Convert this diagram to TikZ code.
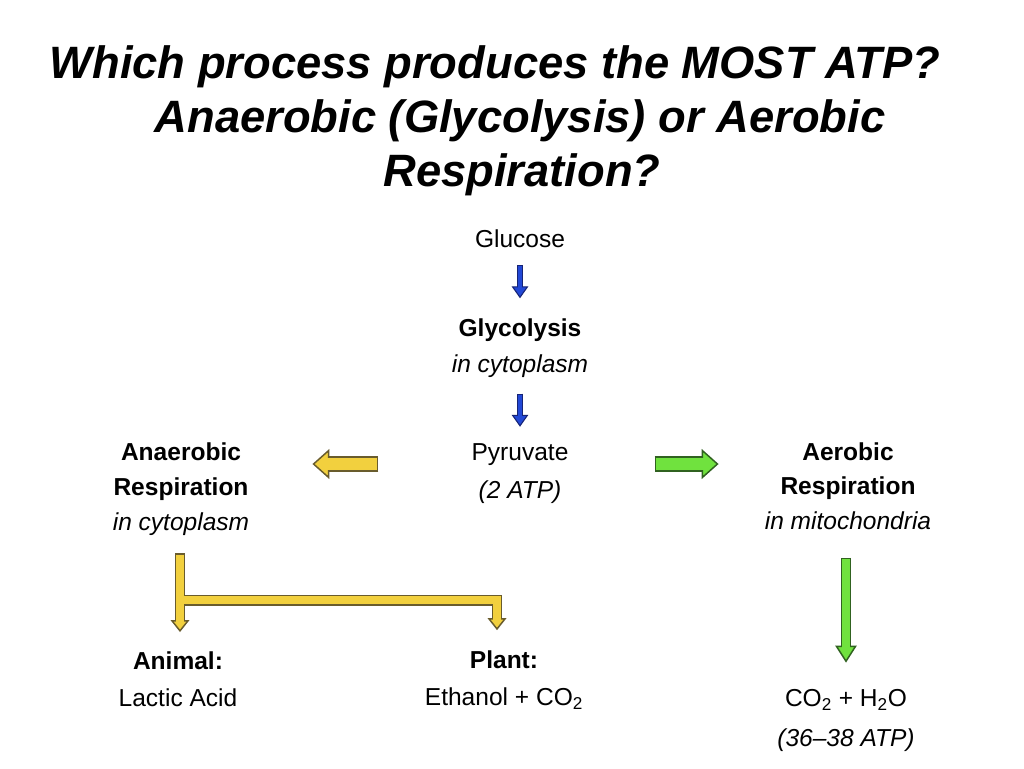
\documentclass[tikz,border=0pt]{standalone}
\usepackage{fontspec}
\setmainfont{Liberation Sans}
\usepackage{xcolor}
\usepackage{tikz}
\usetikzlibrary{arrows.meta, positioning, calc}
\definecolor{goldfill}{RGB}{242,208,62}
\definecolor{goldline}{RGB}{105,92,45}
\definecolor{limefill}{RGB}{112,226,62}
\definecolor{limeline}{RGB}{48,98,32}
\definecolor{bluefill}{RGB}{34,72,214}
\definecolor{blueline}{RGB}{22,36,118}

\begin{document}
\begin{tikzpicture}[
    x=0.75pt, y=-0.75pt,
    headline/.style={font=\fontsize{34}{40}\selectfont\bfseries\itshape, inner sep=0pt, anchor=base},
    steptext/.style={font=\fontsize{18.4}{26}\selectfont, align=center, inner sep=0pt},
    blueout/.style={draw=blueline, line width=5pt, -{Triangle[length=9pt, width=12.5pt, line width=0.8pt, fill=bluefill]}},
    bluein/.style={draw=bluefill, line width=3.4pt, shorten <=0.8pt, shorten >=7.6pt},
    bigout/.style={draw=#1line, line width=11.4pt, -{Triangle[length=12.75pt, width=22.5pt, line width=1.1pt, fill=#1fill]}},
    bigin/.style={draw=#1fill, line width=9.2pt, shorten <=1.1pt, shorten >=11pt},
    thinout/.style={draw=#1line, line width=8.2pt, -{Triangle[length=9pt, width=14pt, line width=1.1pt, fill=#1fill]}},
    thinin/.style={draw=#1fill, line width=6pt, shorten <=1.1pt, shorten >=7.6pt},
    longout/.style={draw=limeline, line width=8.2pt, -{Triangle[length=12.75pt, width=16pt, line width=1.1pt, fill=limefill]}},
    longin/.style={draw=limefill, line width=6pt, shorten <=1.1pt, shorten >=11pt}
]
    \path[fill=white] (0,0) rectangle (1024,768);

    % Question
    \node[headline] (q1) at (495,78) {Which process produces the MOST ATP?};
    \node[headline] (q2) at (520,132) {Anaerobic (Glycolysis) or Aerobic};
    \node[headline] (q3) at (522,186) {Respiration?};

    % Central column
    \node[steptext] (glucose) at (520,239) {Glucose};
    \node[steptext, font=\fontsize{18.4}{27}\selectfont] (glyco) at (520,348) {\textbf{Glycolysis}\\\textit{in cytoplasm}};
    \node[steptext, font=\fontsize{18.4}{28.5}\selectfont] (pyruvate) at (520,474) {Pyruvate\\\textit{(2 ATP)}};

    % Two pathways
    \node[steptext] (anaer) at (181,489) {\textbf{Anaerobic}\\\textbf{Respiration}\\\textit{in cytoplasm}};
    \node[steptext] (aer) at (848,486) {\textbf{Aerobic}\\\textbf{Respiration}\\\textit{in mitochondria}};

    % End products
    \node[steptext, font=\fontsize{18.4}{28}\selectfont] (animal) at (178,679) {\textbf{Animal:}\\Lactic Acid};
    \node[steptext, font=\fontsize{18.4}{28}\selectfont] (plant) at (504,680) {\textbf{Plant:}\\Ethanol + CO\textsubscript{2}};
    \node[steptext, font=\fontsize{18.4}{30}\selectfont] (products) at (846,720) {CO\textsubscript{2} + H\textsubscript{2}O\\\textit{(36--38 ATP)}};

    % Blue arrows
    \draw[blueout] ($(glucose.south)+(0,17)$) -- ($(glyco.north)+(0,-20)$);
    \draw[bluein] ($(glucose.south)+(0,17)$) -- ($(glyco.north)+(0,-20)$);
    \draw[blueout] ($(glyco.south)+(0,16)$) -- ($(pyruvate.north)+(0,-17)$);
    \draw[bluein] ($(glyco.south)+(0,16)$) -- ($(pyruvate.north)+(0,-17)$);

    % Sideways arrows
    \draw[bigout=gold] ($(pyruvate.west)+(-93,-10)$) -- ($(anaer.east |- pyruvate.west)+(63,-10)$);
    \draw[bigin=gold] ($(pyruvate.west)+(-93,-10)$) -- ($(anaer.east |- pyruvate.west)+(63,-10)$);
    \draw[bigout=lime] ($(pyruvate.east)+(86,-10)$) -- ($(aer.west |- pyruvate.east)+(-46,-10)$);
    \draw[bigin=lime] ($(pyruvate.east)+(86,-10)$) -- ($(aer.west |- pyruvate.east)+(-46,-10)$);

    % Anaerobic branches
    \coordinate (fork) at ($(anaer.south)+(-1,65)$);
    \draw[thinout=gold] ($(anaer.south)+(-1,18)$) -- ($(anaer.south |- animal.north)+(-1,-19)$);
    \draw[thinout=gold] (fork) -| ($(plant.north)+(-7,-20)$);
    \draw[thinin=gold] ($(anaer.south)+(-1,18)$) -- ($(anaer.south |- animal.north)+(-1,-19)$);
    \draw[thinin=gold] (fork) -| ($(plant.north)+(-7,-20)$);

    % Aerobic branch
    \draw[longout] ($(aer.south)+(-2,28)$) -- ($(products.north)+(0,-26)$);
    \draw[longin] ($(aer.south)+(-2,28)$) -- ($(products.north)+(0,-26)$);
\end{tikzpicture}
\end{document}
